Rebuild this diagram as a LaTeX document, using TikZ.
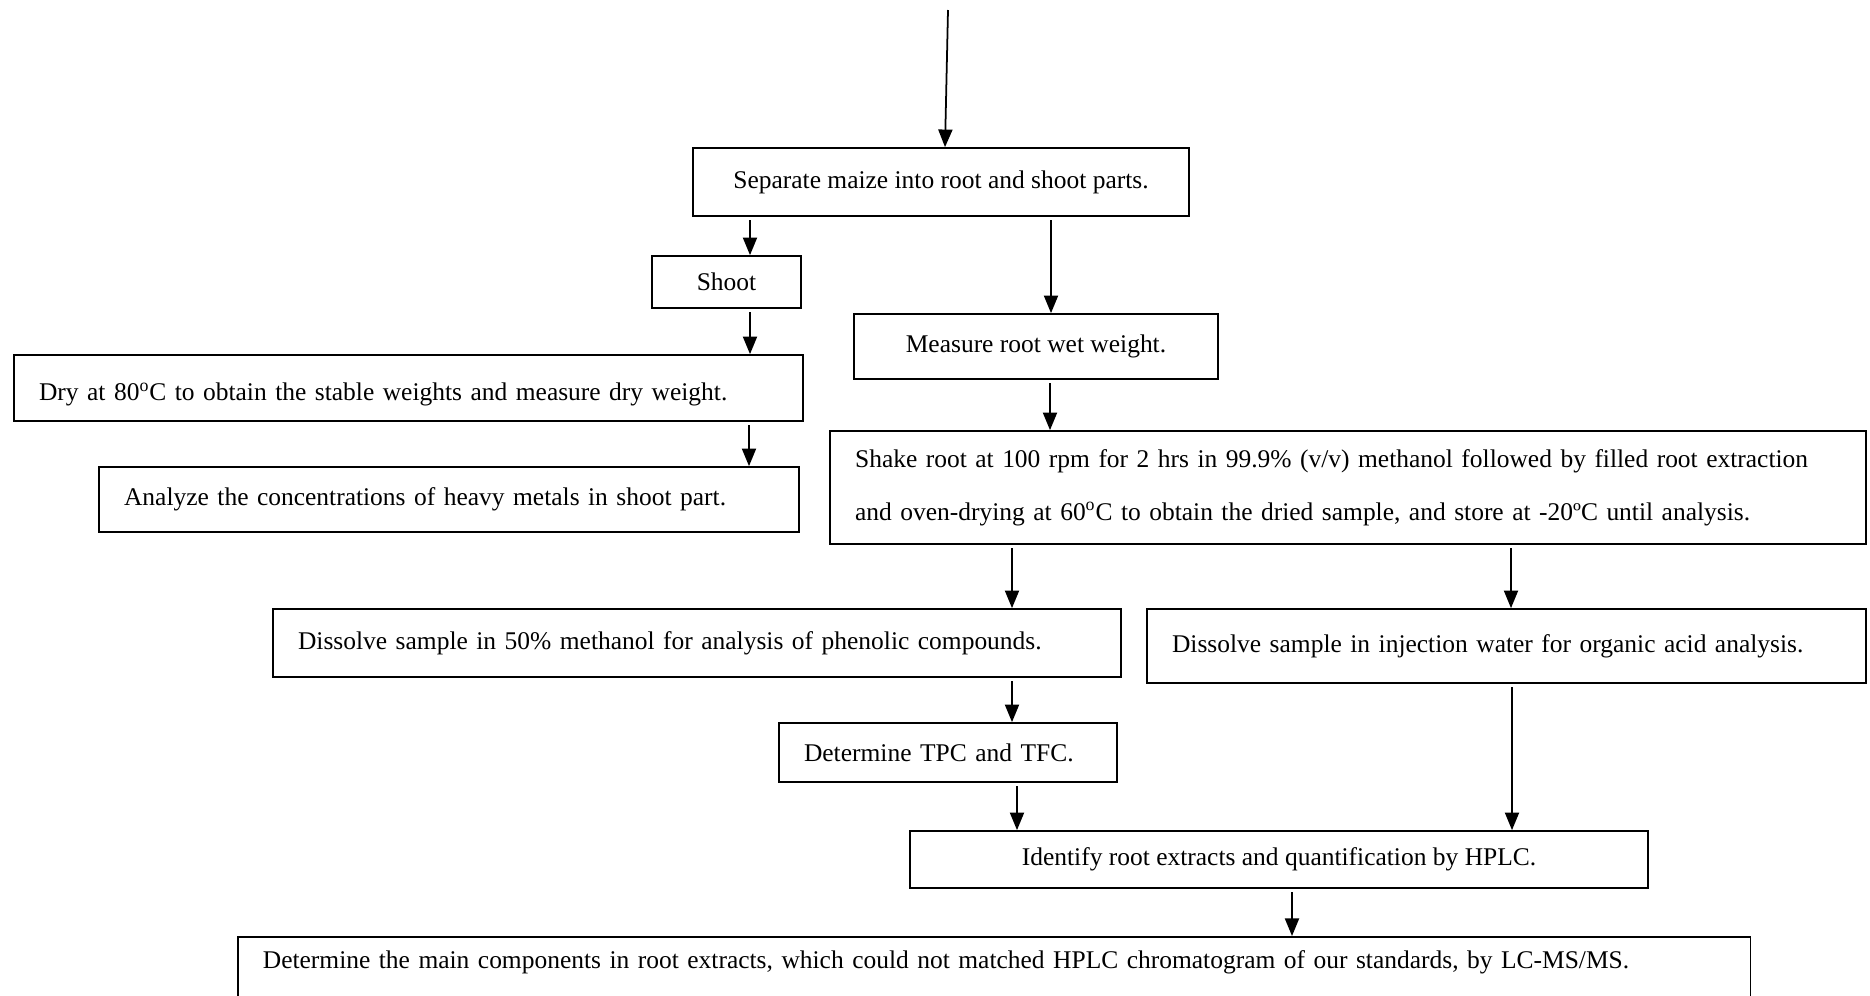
\documentclass[tikz,border=0pt]{standalone}
\usepackage{fontspec}
\setmainfont{Liberation Serif}
\usetikzlibrary{arrows.meta, positioning}

\begin{document}
\begin{tikzpicture}[x=0.02cm, y=-0.02cm,
      stepbox/.style={rectangle, draw=black, line width=1pt,
                      font=\fontsize{14.5}{17}\selectfont, inner xsep=0.5cm,
                      align=left},
      cbox/.style={stepbox, align=center, inner xsep=0pt},
      arr/.style={-{Triangle[length=10pt, width=8pt]}, line width=1pt,
                  shorten <=2pt}
    ]
    \useasboundingbox (0,0) rectangle (1870,995);

    % top part
    \coordinate (start) at (948,10);
    \node[cbox, minimum width=9.92cm, minimum height=1.36cm] (sep) at (941,182)
      {Separate maize into root and shoot parts.};
    \node[cbox, minimum width=2.98cm, minimum height=1.04cm] (shoot) at (726.5,282)
      {Shoot};
    \node[cbox, minimum width=7.28cm, minimum height=1.30cm] (meas) at (1036,346.5)
      {Measure root wet weight.};

    % shoot branch
    \node[stepbox, minimum width=15.78cm, minimum height=1.32cm,
          text width=14.78cm, text height=0.6cm] (dry) at (408.5,388)
      {Dry at 80\textsuperscript{o}C to obtain the stable weights and measure dry weight.};
    \node[stepbox, minimum width=14.0cm, minimum height=1.30cm,
          text width=13.0cm] (anal) at (449,499.5)
      {Analyze the concentrations of heavy metals in shoot part.};

    % root branch
    \node[stepbox, minimum width=20.72cm, minimum height=2.26cm,
          text width=19.72cm, font=\fontsize{14.5}{30}\selectfont] (shake) at (1348,487.5)
      {Shake root at 100 rpm for 2 hrs in 99.9\% (v/v) methanol followed by filled root extraction\\
       and oven-drying at 60\textsuperscript{o}C to obtain the dried sample, and store at -20ºC until analysis.};
    \node[stepbox, minimum width=16.96cm, minimum height=1.36cm,
          text width=15.96cm] (phen) at (697,643)
      {Dissolve sample in 50\% methanol for analysis of phenolic compounds.};
    \node[stepbox, minimum width=14.38cm, minimum height=1.48cm,
          text width=13.38cm] (water) at (1506.5,646)
      {Dissolve sample in injection water for organic acid analysis.};
    \node[stepbox, minimum width=6.76cm, minimum height=1.18cm,
          text width=5.76cm] (tpc) at (948,752.5)
      {Determine TPC and TFC.};
    \node[cbox, minimum width=14.76cm, minimum height=1.14cm] (hplc) at (1279,859.5)
      {Identify root extracts and quantification by HPLC.};
    \node[stepbox, anchor=north west, minimum width=30.26cm, text width=29.26cm,
          inner ysep=0pt, text height=0.64cm, text depth=1cm] (lcms) at (237,936)
      {Determine the main components in root extracts, which could not matched HPLC chromatogram of our standards, by LC-MS/MS.};

    % connectors
    \draw[arr, shorten <=0pt] (start) -- (sep.north -| 945,0);
    \draw[arr] (sep.south -| 750,0) -- (shoot.north -| 750,0);
    \draw[arr] (sep.south -| 1051,0) -- (meas.north -| 1051,0);
    \draw[arr] (shoot.south -| 750,0) -- (dry.north -| 750,0);
    \draw[arr] (dry.south -| 749,0) -- (anal.north -| 749,0);
    \draw[arr] (meas.south -| 1050,0) -- (shake.north -| 1050,0);
    \draw[arr] (shake.south -| 1012,0) -- (phen.north -| 1012,0);
    \draw[arr] (shake.south -| 1511,0) -- (water.north -| 1511,0);
    \draw[arr] (phen.south -| 1012,0) -- (tpc.north -| 1012,0);
    \draw[arr] (tpc.south -| 1017,0) -- (hplc.north -| 1017,0);
    \draw[arr] (water.south -| 1512,0) -- (hplc.north -| 1512,0);
    \draw[arr] (hplc.south -| 1292,0) -- (lcms.north -| 1292,0);
\end{tikzpicture}
\end{document}
